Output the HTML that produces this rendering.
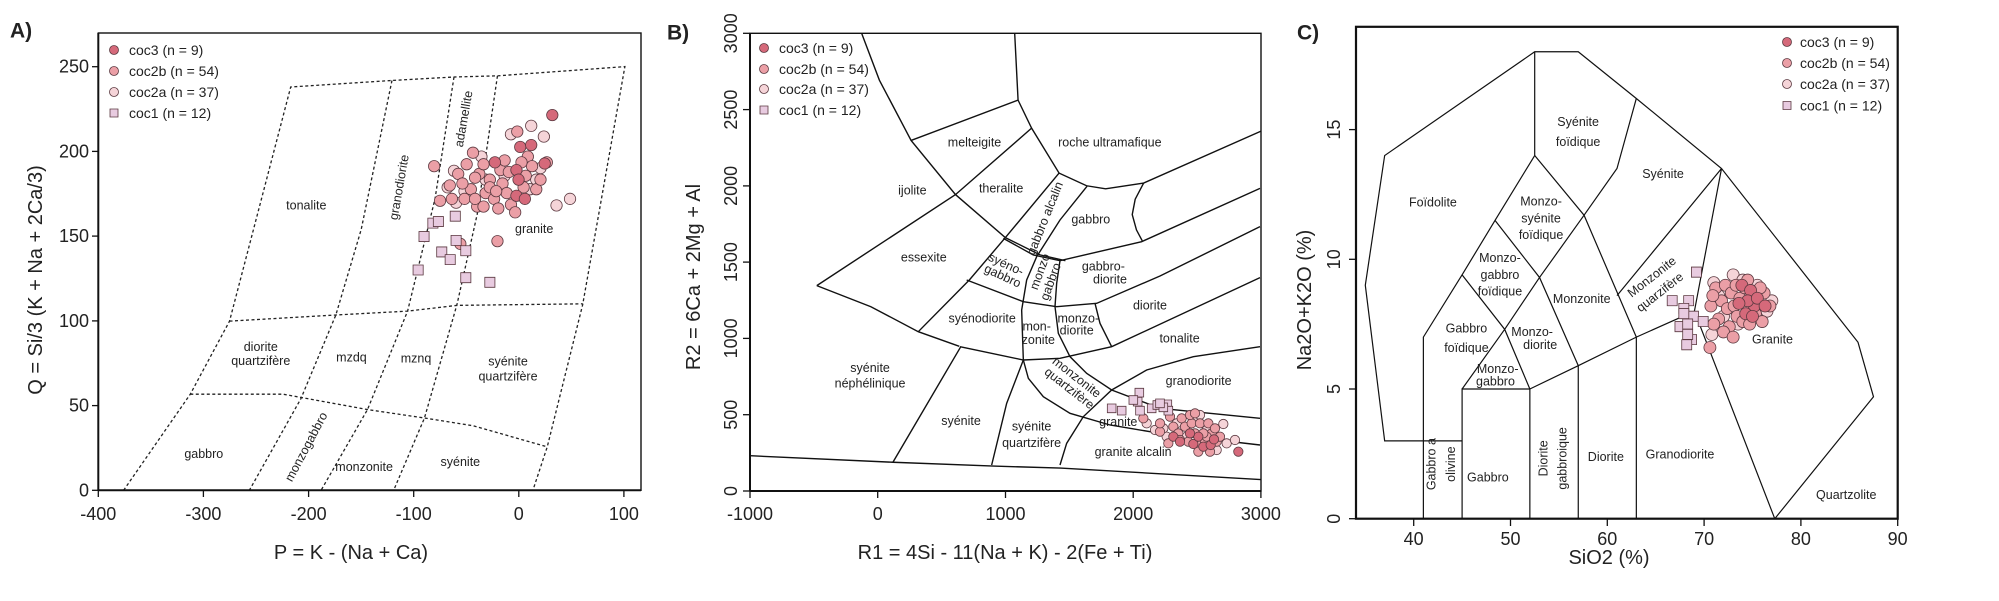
<!DOCTYPE html>
<html><head><meta charset="utf-8"><style>
html,body{margin:0;padding:0;background:#fff;}
svg{display:block;}
text{font-family:"Liberation Sans Narrow","Liberation Sans",sans-serif;fill:#222;}
.r{font-size:12.5px;text-anchor:middle;dominant-baseline:central;}
.t{font-size:18px;text-anchor:middle;dominant-baseline:central;}
.ty{font-size:18px;text-anchor:end;dominant-baseline:central;}
.ti{font-size:20px;text-anchor:middle;dominant-baseline:central;}
.lg{font-size:14px;dominant-baseline:central;}
.pn{font-size:21px;font-weight:bold;font-family:"Liberation Sans",sans-serif;dominant-baseline:central;}
.d{fill:none;stroke:#222;stroke-width:1.3;stroke-dasharray:3,2.5;vector-effect:non-scaling-stroke;}
.s{fill:none;stroke:#111;stroke-width:1.4;vector-effect:non-scaling-stroke;}
.c3,.c2b,.c2a,.c1{stroke:#5b3940;stroke-width:0.8;vector-effect:non-scaling-stroke;}
.c3{fill:#d5697a}.c2b{fill:#eb9fa6}.c2a{fill:#f5d4d8}.c1{fill:#e8cbe0}
.ax{stroke:#111;stroke-width:2;}
.tk{stroke:#111;stroke-width:1.3;}
</style></head><body>
<svg width="1999" height="601" viewBox="0 0 1999 601" xmlns="http://www.w3.org/2000/svg">
<rect width="1999" height="601" fill="#fff"/>

<!-- ================= PANEL A ================= -->
<rect x="98.3" y="33" width="542.7" height="457.3" fill="none" stroke="#111" stroke-width="1.4"/>
<g transform="translate(0.41,-1.05) scale(0.42194,0.38447)">
<polyline class="d" points="292,1278 450,1028 543,838 688,229 928,212 1075,203 1178,200 1480,176 1380,795 1296,1165 1262,1278"/>
<polyline class="d" points="928,212 855,600 795,822 712,1040 590,1278"/>
<polyline class="d" points="1075,203 1030,520 965,812 870,1068 760,1278"/>
<polyline class="d" points="1178,200 1130,560 1082,795 1005,1090 932,1278"/>
<polyline class="d" points="543,838 795,822 965,812 1082,797 1380,793"/>
<polyline class="d" points="450,1028 670,1028 870,1068 1005,1090 1120,1110 1296,1165"/>
<text class="r" transform="translate(725,537) scale(2.37,2.601)">tonalite</text>
<text class="r" transform="translate(945,490) scale(2.37,2.601) rotate(-80)">granodiorite</text>
<text class="r" transform="translate(1098,312) scale(2.37,2.601) rotate(-80)">adamellite</text>
<text class="r" transform="translate(1265,598) scale(2.37,2.601)">granite</text>
<text class="r" transform="translate(617,905) scale(2.37,2.601)">diorite</text>
<text class="r" transform="translate(617,942) scale(2.37,2.601)">quartzifère</text>
<text class="r" transform="translate(832,933) scale(2.37,2.601)">mzdq</text>
<text class="r" transform="translate(985,935) scale(2.37,2.601)">mznq</text>
<text class="r" transform="translate(1203,943) scale(2.37,2.601)">syénite</text>
<text class="r" transform="translate(1203,982) scale(2.37,2.601)">quartzifère</text>
<text class="r" transform="translate(482,1183) scale(2.37,2.601)">gabbro</text>
<text class="r" transform="translate(725,1165) scale(2.37,2.601) rotate(-62)">monzogabbro</text>
<text class="r" transform="translate(862,1218) scale(2.37,2.601)">monzonite</text>
<text class="r" transform="translate(1090,1205) scale(2.37,2.601)">syénite</text>
<g>
<ellipse class="c2a" cx="1210" cy="352" rx="13.5" ry="14.8"/><ellipse class="c2a" cx="1258" cy="330" rx="13.5" ry="14.8"/><ellipse class="c2a" cx="1288" cy="358" rx="13.5" ry="14.8"/><ellipse class="c2a" cx="1318" cy="537" rx="13.5" ry="14.8"/><ellipse class="c2a" cx="1350" cy="520" rx="13.5" ry="14.8"/><ellipse class="c2a" cx="1075" cy="447" rx="13.5" ry="14.8"/><ellipse class="c2a" cx="1080" cy="530" rx="13.5" ry="14.8"/><ellipse class="c2a" cx="1140" cy="410" rx="13.5" ry="14.8"/><ellipse class="c2a" cx="1195" cy="460" rx="13.5" ry="14.8"/><ellipse class="c2a" cx="1270" cy="470" rx="13.5" ry="14.8"/><ellipse class="c2a" cx="1255" cy="495" rx="13.5" ry="14.8"/><ellipse class="c2a" cx="1150" cy="470" rx="13.5" ry="14.8"/><ellipse class="c2a" cx="1100" cy="500" rx="13.5" ry="14.8"/><ellipse class="c2a" cx="1060" cy="490" rx="13.5" ry="14.8"/><ellipse class="c2a" cx="1280" cy="440" rx="13.5" ry="14.8"/>
<ellipse class="c2b" cx="1028" cy="435" rx="13.5" ry="14.8"/><ellipse class="c2b" cx="1042" cy="525" rx="13.5" ry="14.8"/><ellipse class="c2b" cx="1090" cy="637" rx="13.5" ry="14.8"/><ellipse class="c2b" cx="1178" cy="630" rx="13.5" ry="14.8"/><ellipse class="c2b" cx="1120" cy="400" rx="13.5" ry="14.8"/><ellipse class="c2b" cx="1225" cy="345" rx="13.5" ry="14.8"/><ellipse class="c2b" cx="1250" cy="410" rx="13.5" ry="14.8"/><ellipse class="c2b" cx="1295" cy="425" rx="13.5" ry="14.8"/><ellipse class="c2b" cx="1065" cy="485" rx="13.5" ry="14.8"/><ellipse class="c2b" cx="1085" cy="455" rx="13.5" ry="14.8"/><ellipse class="c2b" cx="1100" cy="520" rx="13.5" ry="14.8"/><ellipse class="c2b" cx="1115" cy="495" rx="13.5" ry="14.8"/><ellipse class="c2b" cx="1130" cy="540" rx="13.5" ry="14.8"/><ellipse class="c2b" cx="1135" cy="455" rx="13.5" ry="14.8"/><ellipse class="c2b" cx="1145" cy="430" rx="13.5" ry="14.8"/><ellipse class="c2b" cx="1150" cy="505" rx="13.5" ry="14.8"/><ellipse class="c2b" cx="1160" cy="470" rx="13.5" ry="14.8"/><ellipse class="c2b" cx="1170" cy="520" rx="13.5" ry="14.8"/><ellipse class="c2b" cx="1180" cy="545" rx="13.5" ry="14.8"/><ellipse class="c2b" cx="1185" cy="445" rx="13.5" ry="14.8"/><ellipse class="c2b" cx="1190" cy="480" rx="13.5" ry="14.8"/><ellipse class="c2b" cx="1200" cy="505" rx="13.5" ry="14.8"/><ellipse class="c2b" cx="1210" cy="535" rx="13.5" ry="14.8"/><ellipse class="c2b" cx="1220" cy="555" rx="13.5" ry="14.8"/><ellipse class="c2b" cx="1160" cy="490" rx="13.5" ry="14.8"/><ellipse class="c2b" cx="1125" cy="465" rx="13.5" ry="14.8"/><ellipse class="c2b" cx="1195" cy="420" rx="13.5" ry="14.8"/><ellipse class="c2b" cx="1245" cy="460" rx="13.5" ry="14.8"/><ellipse class="c2b" cx="1260" cy="435" rx="13.5" ry="14.8"/><ellipse class="c2b" cx="1270" cy="495" rx="13.5" ry="14.8"/><ellipse class="c2b" cx="1240" cy="490" rx="13.5" ry="14.8"/><ellipse class="c2b" cx="1105" cy="430" rx="13.5" ry="14.8"/><ellipse class="c2b" cx="1145" cy="540" rx="13.5" ry="14.8"/><ellipse class="c2b" cx="1070" cy="520" rx="13.5" ry="14.8"/><ellipse class="c2b" cx="1175" cy="500" rx="13.5" ry="14.8"/><ellipse class="c2b" cx="1235" cy="425" rx="13.5" ry="14.8"/><ellipse class="c2b" cx="1205" cy="450" rx="13.5" ry="14.8"/><ellipse class="c2b" cx="1125" cy="520" rx="13.5" ry="14.8"/><ellipse class="c2b" cx="1280" cy="470" rx="13.5" ry="14.8"/><ellipse class="c2b" cx="1095" cy="480" rx="13.5" ry="14.8"/>
<ellipse class="c3" cx="1308" cy="302" rx="13.5" ry="14.8"/><ellipse class="c3" cx="1232" cy="385" rx="13.5" ry="14.8"/><ellipse class="c3" cx="1258" cy="380" rx="13.5" ry="14.8"/><ellipse class="c3" cx="1290" cy="428" rx="13.5" ry="14.8"/><ellipse class="c3" cx="1223" cy="445" rx="13.5" ry="14.8"/><ellipse class="c3" cx="1228" cy="470" rx="13.5" ry="14.8"/><ellipse class="c3" cx="1223" cy="512" rx="13.5" ry="14.8"/><ellipse class="c3" cx="1172" cy="425" rx="13.5" ry="14.8"/><ellipse class="c3" cx="1243" cy="520" rx="13.5" ry="14.8"/>
<rect class="c1" x="1013" y="570" width="24" height="26"/><rect class="c1" x="1026" y="566" width="24" height="26"/><rect class="c1" x="1066" y="552" width="24" height="26"/><rect class="c1" x="992" y="605" width="24" height="26"/><rect class="c1" x="1068" y="615" width="24" height="26"/><rect class="c1" x="1034" y="645" width="24" height="26"/><rect class="c1" x="1054" y="665" width="24" height="26"/><rect class="c1" x="1091" y="642" width="24" height="26"/><rect class="c1" x="978" y="692" width="24" height="26"/><rect class="c1" x="1091" y="712" width="24" height="26"/><rect class="c1" x="1148" y="724" width="24" height="26"/>
</g>
</g>
<line class="ax" x1="98.3" y1="490.3" x2="641" y2="490.3"/>
<line class="ax" x1="98.3" y1="33" x2="98.3" y2="490.3"/>
<g class="tk">
<line x1="92" y1="490.3" x2="98.3" y2="490.3"/><line x1="92" y1="405.6" x2="98.3" y2="405.6"/><line x1="92" y1="320.9" x2="98.3" y2="320.9"/><line x1="92" y1="236.1" x2="98.3" y2="236.1"/><line x1="92" y1="151.4" x2="98.3" y2="151.4"/><line x1="92" y1="66.7" x2="98.3" y2="66.7"/>
<line x1="98.3" y1="490.3" x2="98.3" y2="497"/><line x1="203.4" y1="490.3" x2="203.4" y2="497"/><line x1="308.6" y1="490.3" x2="308.6" y2="497"/><line x1="413.7" y1="490.3" x2="413.7" y2="497"/><line x1="518.8" y1="490.3" x2="518.8" y2="497"/><line x1="623.9" y1="490.3" x2="623.9" y2="497"/>
</g>
<text class="ty" x="89" y="490.3">0</text><text class="ty" x="89" y="405.6">50</text><text class="ty" x="89" y="320.9">100</text><text class="ty" x="89" y="236.1">150</text><text class="ty" x="89" y="151.4">200</text><text class="ty" x="89" y="66.7">250</text>
<text class="t" x="98.3" y="514">-400</text><text class="t" x="203.4" y="514">-300</text><text class="t" x="308.6" y="514">-200</text><text class="t" x="413.7" y="514">-100</text><text class="t" x="518.8" y="514">0</text><text class="t" x="623.9" y="514">100</text>
<text class="ti" x="351" y="553">P = K - (Na + Ca)</text>
<text class="ti" transform="translate(36,280) rotate(-90)">Q = Si/3 (K + Na + 2Ca/3)</text>
<text class="pn" x="10" y="31">A)</text>
<circle class="c3" cx="114" cy="50" r="4.5"/><text class="lg" x="129" y="50">coc3 (n = 9)</text>
<circle class="c2b" cx="114" cy="71" r="4.5"/><text class="lg" x="129" y="71">coc2b (n = 54)</text>
<circle class="c2a" cx="114" cy="92" r="4.5"/><text class="lg" x="129" y="92">coc2a (n = 37)</text>
<rect class="c1" x="110" y="109" width="8" height="8"/><text class="lg" x="129" y="113">coc1 (n = 12)</text>

<!-- ================= PANEL B ================= -->
<rect x="750" y="33.3" width="511" height="457.7" fill="none" stroke="#111" stroke-width="1.4"/>
<g transform="translate(659.51,-0.49) scale(0.42283,0.38402)">
<polyline class="s" points="478,88 520,210 595,367 700,508 818,620 900,665 960,680"/>
<polyline class="s" points="840,88 848,262 880,335 945,452 1010,485 1055,493 1145,478 1422,343"/>
<polyline class="s" points="1145,478 1125,520 1118,560 1128,600 1142,629"/>
<polyline class="s" points="595,367 848,262"/>
<polyline class="s" points="880,335 700,508 372,745"/>
<polyline class="s" points="372,745 500,800 612,865 709,903"/>
<polyline class="s" points="945,452 818,620 733,730 612,865"/>
<polyline class="s" points="712,905 552,1205"/>
<polyline class="s" points="214,1188 552,1205 790,1215 948,1220 1422,1250"/>
<text class="r" transform="translate(745,372) scale(2.365,2.604)">melteigite</text>
<text class="r" transform="translate(1065,372) scale(2.365,2.604)">roche ultramafique</text>
<text class="r" transform="translate(598,497) scale(2.365,2.604)">ijolite</text>
<text class="r" transform="translate(808,492) scale(2.365,2.604)">theralite</text>
<text class="r" transform="translate(1020,573) scale(2.365,2.604)">gabbro</text>
<text class="r" transform="translate(625,672) scale(2.365,2.604)">essexite</text>
<text class="r" transform="translate(763,831) scale(2.365,2.604)">syénodiorite</text>
<text class="r" transform="translate(1160,797) scale(2.365,2.604)">diorite</text>
<text class="r" transform="translate(1230,883) scale(2.365,2.604)">tonalite</text>
<text class="r" transform="translate(498,960) scale(2.365,2.604)">syénite</text>
<text class="r" transform="translate(498,1000) scale(2.365,2.604)">néphélinique</text>
<text class="r" transform="translate(1275,993) scale(2.365,2.604)">granodiorite</text>
<text class="r" transform="translate(713,1097) scale(2.365,2.604)">syénite</text>
<text class="r" transform="translate(880,1112) scale(2.365,2.604)">syénite</text>
<text class="r" transform="translate(880,1155) scale(2.365,2.604)">quartzifère</text>
<text class="r" transform="translate(1085,1100) scale(2.365,2.604)">granite</text>
<text class="r" transform="translate(1120,1178) scale(2.365,2.604)">granite alcalin</text>
</g>
<g transform="translate(960,170) scale(0.33333)">
<polyline class="s" points="130,205 220,255 300,272 545,215 900,55"/>
<polyline class="s" points="0,530 190,570 300,565 455,530 900,323"/>
<polyline class="s" points="20,330 190,395 290,410 410,400 600,318 900,170"/>
<polyline class="s" points="381,49 300,150 230,260 200,330 185,420 190,570 140,700 95,885"/>
<polyline class="s" points="300,272 290,340 285,410 295,490 330,560 380,610 455,660 600,715 900,745"/>
<polyline class="s" points="190,570 205,625 250,680 330,730 450,765 600,790 900,825"/>
<polyline class="s" points="300,885 320,820 370,740 455,660 560,600 700,560 900,530"/>
<polyline class="s" points="405,400 420,460 455,530"/>
<text class="r" transform="translate(430,290) scale(3)">gabbro-</text>
<text class="r" transform="translate(450,328) scale(3)">diorite</text>
<text class="r" transform="translate(230,470) scale(3)">mon-</text>
<text class="r" transform="translate(235,510) scale(3)">zonite</text>
<text class="r" transform="translate(355,445) scale(3)">monzo-</text>
<text class="r" transform="translate(350,482) scale(3)">diorite</text>
<text class="r" transform="translate(255,145) scale(3) rotate(-68)">gabbro alcalin</text>
<text class="r" transform="translate(138,283) scale(3) rotate(25)">syéno-</text>
<text class="r" transform="translate(128,318) scale(3) rotate(25)">gabbro</text>
<text class="r" transform="translate(240,305) scale(3) rotate(-70)">monzo</text>
<text class="r" transform="translate(272,335) scale(3) rotate(-70)">gabbro</text>
<text class="r" transform="translate(350,622) scale(3) rotate(38)">monzonite</text>
<text class="r" transform="translate(328,655) scale(3) rotate(38)">quartzifère</text>
<g>
<circle class="c2a" cx="560" cy="760" r="14"/><circle class="c2a" cx="585" cy="780" r="14"/><circle class="c2a" cx="620" cy="800" r="14"/><circle class="c2a" cx="650" cy="760" r="14"/><circle class="c2a" cx="700" cy="745" r="14"/><circle class="c2a" cx="720" cy="735" r="14"/><circle class="c2a" cx="790" cy="762" r="14"/><circle class="c2a" cx="800" cy="820" r="14"/><circle class="c2a" cx="825" cy="810" r="14"/><circle class="c2a" cx="610" cy="775" r="14"/><circle class="c2a" cx="680" cy="800" r="14"/><circle class="c2a" cx="740" cy="780" r="14"/><circle class="c2a" cx="770" cy="840" r="14"/>
<circle class="c2b" cx="550" cy="745" r="14"/><circle class="c2b" cx="600" cy="785" r="14"/><circle class="c2b" cx="630" cy="740" r="14"/><circle class="c2b" cx="640" cy="770" r="14"/><circle class="c2b" cx="655" cy="790" r="14"/><circle class="c2b" cx="665" cy="745" r="14"/><circle class="c2b" cx="675" cy="770" r="14"/><circle class="c2b" cx="685" cy="815" r="14"/><circle class="c2b" cx="695" cy="760" r="14"/><circle class="c2b" cx="705" cy="790" r="14"/><circle class="c2b" cx="710" cy="820" r="14"/><circle class="c2b" cx="720" cy="760" r="14"/><circle class="c2b" cx="725" cy="800" r="14"/><circle class="c2b" cx="735" cy="815" r="14"/><circle class="c2b" cx="745" cy="760" r="14"/><circle class="c2b" cx="755" cy="790" r="14"/><circle class="c2b" cx="765" cy="775" r="14"/><circle class="c2b" cx="770" cy="815" r="14"/><circle class="c2b" cx="780" cy="800" r="14"/><circle class="c2b" cx="600" cy="760" r="14"/><circle class="c2b" cx="625" cy="820" r="14"/><circle class="c2b" cx="660" cy="810" r="14"/><circle class="c2b" cx="690" cy="735" r="14"/><circle class="c2b" cx="705" cy="730" r="14"/><circle class="c2b" cx="740" cy="800" r="14"/><circle class="c2b" cx="715" cy="845" r="14"/><circle class="c2b" cx="750" cy="845" r="14"/><circle class="c2b" cx="730" cy="790" r="14"/>
<circle class="c3" cx="640" cy="800" r="14"/><circle class="c3" cx="660" cy="815" r="14"/><circle class="c3" cx="700" cy="822" r="14"/><circle class="c3" cx="715" cy="800" r="14"/><circle class="c3" cx="730" cy="830" r="14"/><circle class="c3" cx="752" cy="825" r="14"/><circle class="c3" cx="762" cy="808" r="14"/><circle class="c3" cx="835" cy="845" r="14"/><circle class="c3" cx="690" cy="790" r="14"/>
<rect class="c1" x="442" y="702" width="26" height="26"/><rect class="c1" x="472" y="709" width="26" height="26"/><rect class="c1" x="525" y="655" width="26" height="26"/><rect class="c1" x="520" y="682" width="26" height="26"/><rect class="c1" x="527" y="709" width="26" height="26"/><rect class="c1" x="562" y="702" width="26" height="26"/><rect class="c1" x="579" y="692" width="26" height="26"/><rect class="c1" x="609" y="690" width="26" height="26"/><rect class="c1" x="612" y="709" width="26" height="26"/><rect class="c1" x="507" y="677" width="26" height="26"/><rect class="c1" x="597" y="699" width="26" height="26"/><rect class="c1" x="587" y="687" width="26" height="26"/>
</g>
</g>
<line class="ax" x1="750" y1="491" x2="1261" y2="491"/>
<line class="ax" x1="750" y1="33.3" x2="750" y2="491"/>
<g class="tk">
<line x1="743" y1="491" x2="750" y2="491"/><line x1="743" y1="414.7" x2="750" y2="414.7"/><line x1="743" y1="338.4" x2="750" y2="338.4"/><line x1="743" y1="262.1" x2="750" y2="262.1"/><line x1="743" y1="185.9" x2="750" y2="185.9"/><line x1="743" y1="109.6" x2="750" y2="109.6"/><line x1="743" y1="33.3" x2="750" y2="33.3"/>
<line x1="750" y1="491" x2="750" y2="498"/><line x1="877.7" y1="491" x2="877.7" y2="498"/><line x1="1005.5" y1="491" x2="1005.5" y2="498"/><line x1="1133.2" y1="491" x2="1133.2" y2="498"/><line x1="1260.9" y1="491" x2="1260.9" y2="498"/>
</g>
<text class="t" transform="translate(731,491) rotate(-90)">0</text>
<text class="t" transform="translate(731,414.7) rotate(-90)">500</text>
<text class="t" transform="translate(731,338.4) rotate(-90)">1000</text>
<text class="t" transform="translate(731,262.1) rotate(-90)">1500</text>
<text class="t" transform="translate(731,185.9) rotate(-90)">2000</text>
<text class="t" transform="translate(731,109.6) rotate(-90)">2500</text>
<text class="t" transform="translate(731,33.3) rotate(-90)">3000</text>
<text class="t" x="750" y="514">-1000</text><text class="t" x="877.7" y="514">0</text><text class="t" x="1005.5" y="514">1000</text><text class="t" x="1133.2" y="514">2000</text><text class="t" x="1260.9" y="514">3000</text>
<text class="ti" x="1005" y="553">R1 = 4Si - 11(Na + K) - 2(Fe + Ti)</text>
<text class="ti" transform="translate(694,277) rotate(-90)">R2 = 6Ca + 2Mg + Al</text>
<text class="pn" x="667" y="33">B)</text>
<circle class="c3" cx="764" cy="48" r="4.5"/><text class="lg" x="779" y="48">coc3 (n = 9)</text>
<circle class="c2b" cx="764" cy="69" r="4.5"/><text class="lg" x="779" y="69">coc2b (n = 54)</text>
<circle class="c2a" cx="764" cy="89" r="4.5"/><text class="lg" x="779" y="89">coc2a (n = 37)</text>
<rect class="c1" x="760" y="106" width="8" height="8"/><text class="lg" x="779" y="110">coc1 (n = 12)</text>

<!-- ================= PANEL C ================= -->
<rect x="1356" y="26.8" width="541.7" height="491.9" fill="none" stroke="#111" stroke-width="2.2"/>
<g transform="translate(1026.5,518.7) scale(9.68,-25.94)">
<polyline class="s" style="stroke-width:1.2" points="41,0 41,7 45,9.4 48.4,11.5 52.5,14 52.5,18"/>
<polyline class="s" style="stroke-width:1.2" points="45,3 37,3 35,9 37,14 52.5,18 57,18 63,16.2 71.8,13.5 85.9,6.8 87.5,4.7 77.3,0"/>
<polyline class="s" style="stroke-width:1.2" points="45,0 45,5 52,5 52,0"/>
<polyline class="s" style="stroke-width:1.2" points="45,5 49.4,7.3 53,9.3 57.6,11.7 61,13.5 63,16.2"/>
<polyline class="s" style="stroke-width:1.2" points="52.5,14 57.6,11.7 63,7"/>
<polyline class="s" style="stroke-width:1.2" points="48.4,11.5 53,9.3 57,5.9"/>
<polyline class="s" style="stroke-width:1.2" points="45,9.4 49.4,7.3 52,5"/>
<polyline class="s" style="stroke-width:1.2" points="52,5 57,5.9 63,7 69,8"/>
<polyline class="s" style="stroke-width:1.2" points="57,0 57,5.9"/>
<polyline class="s" style="stroke-width:1.2" points="63,0 63,7"/>
<polyline class="s" style="stroke-width:1.2" points="61,8.6 71.8,13.5 69,8 77.3,0"/>
<g>
<ellipse class="c2a" cx="71" cy="9.1" rx="0.62" ry="0.231"/><ellipse class="c2a" cx="71.5" cy="8.6" rx="0.62" ry="0.231"/><ellipse class="c2a" cx="73" cy="9.4" rx="0.62" ry="0.231"/><ellipse class="c2a" cx="72" cy="7.8" rx="0.62" ry="0.231"/><ellipse class="c2a" cx="74" cy="9.2" rx="0.62" ry="0.231"/><ellipse class="c2a" cx="76.5" cy="8.0" rx="0.62" ry="0.231"/><ellipse class="c2a" cx="77" cy="8.4" rx="0.62" ry="0.231"/><ellipse class="c2a" cx="73.5" cy="7.5" rx="0.62" ry="0.231"/><ellipse class="c2a" cx="70.8" cy="7.1" rx="0.62" ry="0.231"/><ellipse class="c2a" cx="75.5" cy="9.0" rx="0.62" ry="0.231"/>
<ellipse class="c2b" cx="70.7" cy="8.2" rx="0.62" ry="0.231"/><ellipse class="c2b" cx="71.2" cy="8.9" rx="0.62" ry="0.231"/><ellipse class="c2b" cx="71.5" cy="7.7" rx="0.62" ry="0.231"/><ellipse class="c2b" cx="71.8" cy="8.4" rx="0.62" ry="0.231"/><ellipse class="c2b" cx="72.2" cy="9.0" rx="0.62" ry="0.231"/><ellipse class="c2b" cx="72.4" cy="8.1" rx="0.62" ry="0.231"/><ellipse class="c2b" cx="72.6" cy="7.4" rx="0.62" ry="0.231"/><ellipse class="c2b" cx="72.8" cy="8.7" rx="0.62" ry="0.231"/><ellipse class="c2b" cx="73.1" cy="8.2" rx="0.62" ry="0.231"/><ellipse class="c2b" cx="73.3" cy="9.0" rx="0.62" ry="0.231"/><ellipse class="c2b" cx="73.4" cy="7.8" rx="0.62" ry="0.231"/><ellipse class="c2b" cx="73.7" cy="8.5" rx="0.62" ry="0.231"/><ellipse class="c2b" cx="74.0" cy="7.6" rx="0.62" ry="0.231"/><ellipse class="c2b" cx="74.2" cy="8.9" rx="0.62" ry="0.231"/><ellipse class="c2b" cx="74.4" cy="8.2" rx="0.62" ry="0.231"/><ellipse class="c2b" cx="74.7" cy="7.5" rx="0.62" ry="0.231"/><ellipse class="c2b" cx="75.0" cy="8.6" rx="0.62" ry="0.231"/><ellipse class="c2b" cx="75.3" cy="7.9" rx="0.62" ry="0.231"/><ellipse class="c2b" cx="75.6" cy="8.3" rx="0.62" ry="0.231"/><ellipse class="c2b" cx="76.0" cy="7.6" rx="0.62" ry="0.231"/><ellipse class="c2b" cx="76.2" cy="8.7" rx="0.62" ry="0.231"/><ellipse class="c2b" cx="76.8" cy="8.2" rx="0.62" ry="0.231"/><ellipse class="c2b" cx="71.0" cy="7.5" rx="0.62" ry="0.231"/><ellipse class="c2b" cx="72.0" cy="7.2" rx="0.62" ry="0.231"/><ellipse class="c2b" cx="73.0" cy="7.0" rx="0.62" ry="0.231"/><ellipse class="c2b" cx="74.5" cy="9.2" rx="0.62" ry="0.231"/><ellipse class="c2b" cx="75.8" cy="8.9" rx="0.62" ry="0.231"/><ellipse class="c2b" cx="70.9" cy="8.6" rx="0.62" ry="0.231"/><ellipse class="c2b" cx="70.6" cy="6.6" rx="0.62" ry="0.231"/>
<ellipse class="c3" cx="73.9" cy="9.0" rx="0.62" ry="0.231"/><ellipse class="c3" cx="74.8" cy="8.8" rx="0.62" ry="0.231"/><ellipse class="c3" cx="75.2" cy="8.2" rx="0.62" ry="0.231"/><ellipse class="c3" cx="74.5" cy="8.4" rx="0.62" ry="0.231"/><ellipse class="c3" cx="75.5" cy="8.5" rx="0.62" ry="0.231"/><ellipse class="c3" cx="74.3" cy="7.9" rx="0.62" ry="0.231"/><ellipse class="c3" cx="73.6" cy="8.3" rx="0.62" ry="0.231"/><ellipse class="c3" cx="76.3" cy="8.2" rx="0.62" ry="0.231"/><ellipse class="c3" cx="75.0" cy="7.8" rx="0.62" ry="0.231"/>
<rect class="c1" x="68.69" y="9.31" width="1.03" height="0.39"/><rect class="c1" x="66.19" y="8.21" width="1.03" height="0.39"/><rect class="c1" x="67.89" y="8.21" width="1.03" height="0.39"/><rect class="c1" x="67.39" y="7.91" width="1.03" height="0.39"/><rect class="c1" x="68.39" y="7.61" width="1.03" height="0.39"/><rect class="c1" x="66.99" y="7.21" width="1.03" height="0.39"/><rect class="c1" x="68.19" y="6.71" width="1.03" height="0.39"/><rect class="c1" x="69.39" y="7.41" width="1.03" height="0.39"/><rect class="c1" x="67.79" y="6.91" width="1.03" height="0.39"/><rect class="c1" x="67.79" y="7.31" width="1.03" height="0.39"/><rect class="c1" x="67.39" y="7.71" width="1.03" height="0.39"/><rect class="c1" x="67.69" y="6.51" width="1.03" height="0.39"/>
</g>
</g>
<g transform="translate(1298.87,0) scale(0.44683,0.38358)">
<text class="r" transform="translate(625,318) scale(2.238,2.607)">Syénite</text>
<text class="r" transform="translate(625,370) scale(2.238,2.607)">foïdique</text>
<text class="r" transform="translate(300,528) scale(2.238,2.607)">Foïdolite</text>
<text class="r" transform="translate(815,453) scale(2.238,2.607)">Syénite</text>
<text class="r" transform="translate(542,525) scale(2.238,2.607)">Monzo-</text>
<text class="r" transform="translate(542,570) scale(2.238,2.607)">syénite</text>
<text class="r" transform="translate(542,612) scale(2.238,2.607)">foïdique</text>
<text class="r" transform="translate(450,672) scale(2.238,2.607)">Monzo-</text>
<text class="r" transform="translate(450,717) scale(2.238,2.607)">gabbro</text>
<text class="r" transform="translate(450,760) scale(2.238,2.607)">foïdique</text>
<text class="r" transform="translate(633,780) scale(2.238,2.607)">Monzonite</text>
<text class="r" transform="translate(375,857) scale(2.238,2.607)">Gabbro</text>
<text class="r" transform="translate(375,907) scale(2.238,2.607)">foïdique</text>
<text class="r" transform="translate(522,866) scale(2.238,2.607)">Monzo-</text>
<text class="r" transform="translate(540,900) scale(2.238,2.607)">diorite</text>
<text class="r" transform="translate(445,962) scale(2.238,2.607)">Monzo-</text>
<text class="r" transform="translate(440,995) scale(2.238,2.607)">gabbro</text>
<text class="r" transform="translate(1060,885) scale(2.238,2.607)">Granite</text>
<text class="r" transform="translate(423,1245) scale(2.238,2.607)">Gabbro</text>
<text class="r" transform="translate(687,1192) scale(2.238,2.607)">Diorite</text>
<text class="r" transform="translate(853,1185) scale(2.238,2.607)">Granodiorite</text>
<text class="r" transform="translate(1225,1290) scale(2.238,2.607)">Quartzolite</text>
<text class="r" transform="translate(790,722) scale(2.238,2.607) rotate(-38)">Monzonite</text>
<text class="r" transform="translate(808,762) scale(2.238,2.607) rotate(-38)">quarzifère</text>
<text class="r" transform="translate(297,1210) scale(2.238,2.607) rotate(-90)">Gabbro a</text>
<text class="r" transform="translate(340,1210) scale(2.238,2.607) rotate(-90)">olivine</text>
<text class="r" transform="translate(548,1195) scale(2.238,2.607) rotate(-90)">Diorite</text>
<text class="r" transform="translate(590,1195) scale(2.238,2.607) rotate(-90)">gabbroique</text>
</g>
<g class="tk">
<line x1="1349" y1="518.7" x2="1356" y2="518.7"/><line x1="1349" y1="389" x2="1356" y2="389"/><line x1="1349" y1="259.3" x2="1356" y2="259.3"/><line x1="1349" y1="129.6" x2="1356" y2="129.6"/>
<line x1="1413.7" y1="518.7" x2="1413.7" y2="526"/><line x1="1510.5" y1="518.7" x2="1510.5" y2="526"/><line x1="1607.3" y1="518.7" x2="1607.3" y2="526"/><line x1="1704.1" y1="518.7" x2="1704.1" y2="526"/><line x1="1800.9" y1="518.7" x2="1800.9" y2="526"/><line x1="1897.7" y1="518.7" x2="1897.7" y2="526"/>
</g>
<text class="t" transform="translate(1334,518.7) rotate(-90)">0</text>
<text class="t" transform="translate(1334,389) rotate(-90)">5</text>
<text class="t" transform="translate(1334,259.3) rotate(-90)">10</text>
<text class="t" transform="translate(1334,129.6) rotate(-90)">15</text>
<text class="t" x="1413.7" y="539">40</text><text class="t" x="1510.5" y="539">50</text><text class="t" x="1607.3" y="539">60</text><text class="t" x="1704.1" y="539">70</text><text class="t" x="1800.9" y="539">80</text><text class="t" x="1897.7" y="539">90</text>
<text class="ti" x="1609" y="558">SiO2 (%)</text>
<text class="ti" transform="translate(1305,300) rotate(-90)">Na2O+K2O (%)</text>
<text class="pn" x="1297" y="33">C)</text>
<circle class="c3" cx="1787" cy="42" r="4.5"/><text class="lg" x="1800" y="42">coc3 (n = 9)</text>
<circle class="c2b" cx="1787" cy="63" r="4.5"/><text class="lg" x="1800" y="63">coc2b (n = 54)</text>
<circle class="c2a" cx="1787" cy="84" r="4.5"/><text class="lg" x="1800" y="84">coc2a (n = 37)</text>
<rect class="c1" x="1783" y="101.5" width="8" height="8"/><text class="lg" x="1800" y="105.5">coc1 (n = 12)</text>
</svg>
</body></html>
